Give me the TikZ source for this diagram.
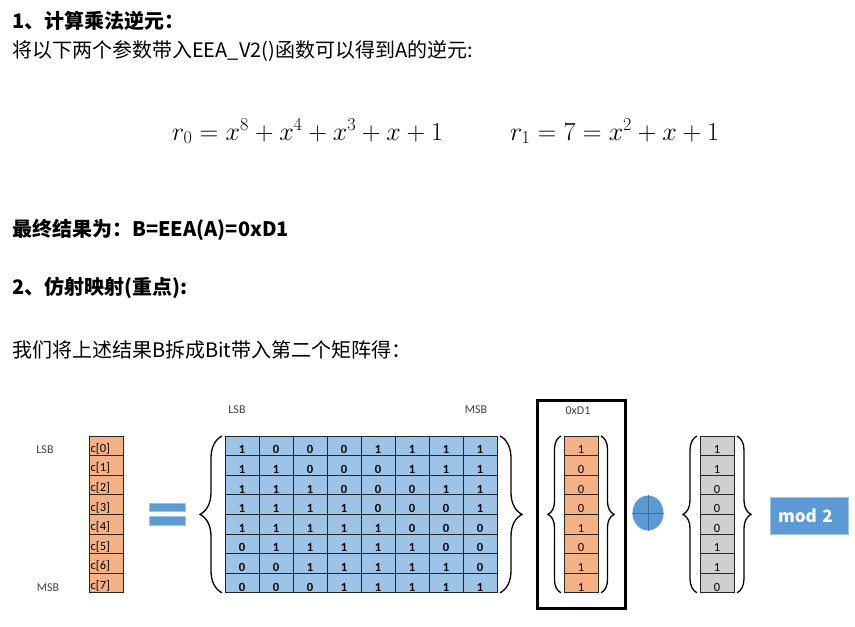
\documentclass[tikz,border=0pt]{standalone}
\usepackage{fix-cm}
\usepackage{fontspec}
\setmainfont{Noto Sans CJK SC}
\newfontfamily\carlito{Carlito}
\usetikzlibrary{positioning,decorations.pathreplacing,shapes.geometric}

\definecolor{cellorange}{HTML}{F4B183}
\definecolor{cellblue}{HTML}{9DC3E6}
\definecolor{cellgray}{HTML}{D0CECE}
\definecolor{accentblue}{HTML}{5B9BD5}
\definecolor{edgeblue}{HTML}{41719C}
\definecolor{labelgray}{HTML}{404040}

\tikzset{
  textline/.style={anchor=west, inner sep=0pt, font=\fontsize{20}{24}\selectfont},
  headline/.style={anchor=west, inner sep=0pt, font=\fontsize{20}{24}\selectfont\bfseries},
  formula/.style={anchor=base west, inner sep=0pt, font=\fontsize{26}{30}\selectfont},
  bitcell/.style={draw=black!85, line width=0.8pt, minimum width=34pt,
    minimum height=19.6pt, inner sep=0pt, outer sep=0pt, fill=#1},
  cellnum/.style={anchor=south, inner sep=1.5pt, font=\carlito\fontsize{12.5}{12.5}\selectfont},
  sidelabel/.style={inner sep=0pt, text=labelgray, font=\carlito\fontsize{12}{12}\selectfont},
  bracket/.style={decorate, decoration={brace, amplitude=#1, raise=3pt}, line width=1.3pt},
  eqbar/.style={fill=accentblue, draw=cellblue, line width=0.5pt,
    minimum width=36pt, minimum height=8.5pt, inner sep=0pt}
}

\begin{document}
\begin{tikzpicture}[x=1pt, y=-1pt]
  \useasboundingbox (0,0) rectangle (855,627);

  % text above the picture
  \node[headline] (title1) at (12,21) {1、计算乘法逆元：};
  \node[textline] (line1) at (12,51) {将以下两个参数带入EEA\_V2()函数可以得到A的逆元:};
  \node[formula] (rzero) at (172,140) {$r_0=x^8+x^4+x^3+x+1$};
  \node[formula] (rone) at (510,140) {$r_1=7=x^2+x+1$};
  \node[headline] (result) at (12,230) {最终结果为：B=EEA(A)=0xD1};
  \node[headline] (title2) at (12,288) {2、仿射映射(重点):};
  \node[textline] (line2) at (12,350) {我们将上述结果B拆成Bit带入第二个矩阵得：};

  % output vector c
  \foreach \i in {0,...,7} {
    \node[bitcell=cellorange] (c-\i) at (106,445.8+19.6*\i) {};
    \node[cellnum, anchor=south west] at (c-\i.south west) {c[\i]};
  }
  \node[sidelabel] (lsbleft) at (45,450) {LSB};
  \node[sidelabel] (msbleft) at (48,588) {MSB};

  % equals sign
  \node[eqbar] (eqtop) at (167,507) {};
  \node[eqbar] (eqbot) at (167,520.5) {};

  % affine matrix
  \foreach \row [count=\r] in {{1,0,0,0,1,1,1,1},{1,1,0,0,0,1,1,1},{1,1,1,0,0,0,1,1},
      {1,1,1,1,0,0,0,1},{1,1,1,1,1,0,0,0},{0,1,1,1,1,1,0,0},{0,0,1,1,1,1,1,0},
      {0,0,0,1,1,1,1,1}} {
    \foreach \v [count=\c] in \row {
      \node[bitcell=cellblue] (m-\r-\c) at (208+34*\c,426.2+19.6*\r) {};
      \node[cellnum, font=\carlito\bfseries\fontsize{12.5}{12.5}\selectfont] at (m-\r-\c.south) {\v};
    }
  }
  \node[sidelabel] (lsbtop) at (237,410) {LSB};
  \node[sidelabel] (msbtop) at (476,410) {MSB};
  \draw[bracket=22pt] (m-8-1.south west) -- (m-1-1.north west);
  \draw[bracket=22pt] (m-1-8.north east) -- (m-8-8.south east);

  % the byte 0xD1
  \node[draw, line width=3pt, minimum width=88pt, minimum height=208pt] (selbox) at (581,504) {};
  \node[sidelabel] (hexlabel) at (578,411) {0xD1};
  \foreach \v [count=\i] in {1,0,0,0,1,0,1,1} {
    \node[bitcell=cellorange] (b-\i) at (581,426.2+19.6*\i) {};
    \node[cellnum] at (b-\i.south) {\v};
  }
  \draw[bracket=13pt] (b-8.south west) -- (b-1.north west);
  \draw[bracket=13pt] (b-1.north east) -- (b-8.south east);

  % xor sign
  \node[ellipse, fill=accentblue, minimum width=31pt, minimum height=35pt, inner sep=0pt] (xor) at (648,513) {};
  \draw[edgeblue, line width=0.6pt] (xor.north) -- (xor.south) (xor.west) -- (xor.east);

  % constant vector
  \foreach \v [count=\i] in {1,1,0,0,0,1,1,0} {
    \node[bitcell=cellgray] (k-\i) at (717,426.2+19.6*\i) {};
    \node[cellnum] at (k-\i.south) {\v};
  }
  \draw[bracket=14pt] (k-8.south west) -- (k-1.north west);
  \draw[bracket=14pt] (k-1.north east) -- (k-8.south east);

  % mod 2
  \node[fill=accentblue, draw=cellblue, line width=0.5pt, text width=62pt, align=left,
    inner xsep=8pt, minimum height=37pt, text=white,
    font=\fontsize{17}{20}\selectfont\bfseries] (modtwo) at (809,515.5) {mod 2};
\end{tikzpicture}
\end{document}
